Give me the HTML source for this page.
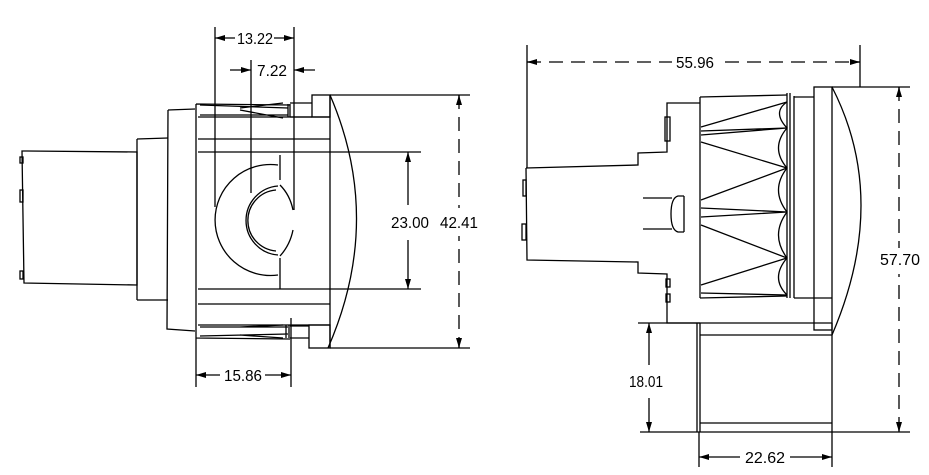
<!DOCTYPE html>
<html><head><style>
html,body{margin:0;padding:0;background:#fff;}
svg{display:block;}
text{font-family:"Liberation Sans",sans-serif;font-size:16px;fill:#000;}
</style></head><body>
<svg width="929" height="475" viewBox="0 0 929 475" xmlns="http://www.w3.org/2000/svg">
<defs>
<marker id="a" viewBox="0 0 10 6" refX="10" refY="3" markerWidth="10" markerHeight="6" orient="auto-start-reverse" markerUnits="userSpaceOnUse"><path d="M0,0L10,3L0,6z" fill="#000"/></marker>
</defs>
<g fill="none" stroke="#000" stroke-width="1.3">
<!-- LEFT VIEW -->
<path d="M27,151 L137,152 L137,285 L24,283 L22,151 Z"/>
<rect x="20" y="157" width="3" height="6"/><rect x="20" y="190" width="3" height="12"/><rect x="20" y="271" width="3" height="8"/>
<path d="M137,139 L168,138 M137,300 L168,300 M137,139 L137,300"/>
<path d="M168,110 L195,109 M168,110 L167,329 L195,331"/>
<path d="M196,104 L196,338 M196,104 L290,105 M196,338 L290,339"/>
<path d="M198,117 L330,117 M198,139 L330,139 M198,152 L421,152 M198,289 L421,289 M198,304 L330,304 M198,325 L330,325"/>
<path d="M200,105 L288,108 M200,115 L288,115 M240,108 L283,103 M240,110 L283,118 M288,104 L288,117 M290,104 L290,117"/>
<path d="M200,336 L288,334 M200,327 L288,327 M240,327 L283,325 M240,335 L283,338 M286,325 L286,338 M289,325 L289,338"/>
<rect x="312" y="95" width="18" height="22"/><rect x="309" y="325" width="21" height="23"/>
<path d="M290,117 L312,117 M290,103 L312,103 M290,338 L309,338 M290,326 L309,326"/>
<path d="M330,95 Q384,220 328,348"/>
<path d="M330,95 L330,348"/>
<!-- semicircle -->
<path d="M278,165 A55.5,55.5 0 1,0 278,275"/>
<path d="M280,155 L280,180 M280,258 L280,289"/>
<path d="M278,186 A34.6,34.6 0 0,0 278,255 M276,190 A30.6,30.6 0 0,0 276,251 M280,185 Q290,195 293,210 M280,256 Q290,245 293,230"/>
<!-- dim lines -->
<path d="M215,27 L215,207 M251,60 L251,193 M294,27 L294,210"/>
<path d="M235,38 L215,38" marker-end="url(#a)"/>
<path d="M274,38 L294,38" marker-end="url(#a)"/>
<path d="M230,70 L251,70" marker-end="url(#a)"/>
<path d="M315,70 L294,70" marker-end="url(#a)"/>
<path d="M196,338 L196,387 M291,318 L291,387"/>
<path d="M220,375 L196,375" marker-end="url(#a)"/>
<path d="M265,375 L291,375" marker-end="url(#a)"/>
<path d="M408,205 L408,152" marker-end="url(#a)"/>
<path d="M408,240 L408,289" marker-end="url(#a)"/>
<path d="M330,95 L470,95 M330,348 L470,348"/>
<path d="M459,95 L459,348" stroke-dasharray="14,8"/>
<path d="M459,105 L459,95" marker-end="url(#a)"/>
<path d="M459,338 L459,348" marker-end="url(#a)"/>

<!-- RIGHT VIEW -->
<path d="M527,45 L527,168 M860,45 L860,87"/>
<path d="M527,62 L860,62" stroke-dasharray="14,8"/>
<path d="M537,62 L527,62" marker-end="url(#a)"/>
<path d="M850,62 L860,62" marker-end="url(#a)"/>
<path d="M526,168 L638,165 L638,153 L667,152 L667,103 L700,103"/>
<path d="M526,168 L527,260 L638,262 L638,273 L667,274 L667,323 L700,323"/>
<rect x="665" y="117" width="5" height="24"/>
<rect x="523" y="180" width="3" height="16"/><rect x="522" y="224" width="4" height="16"/>
<rect x="666" y="279" width="4" height="8"/><rect x="666" y="294" width="4" height="8"/>
<path d="M643,198 L672,198 M643,229 L672,229 M684,196 L684,232 M684,196 L678,196 Q671,198 671,214 Q671,230 678,232 L684,232"/>
<!-- fan ring -->
<path d="M700,97 L700,298 M700,97 L787,95 M700,298 L787,296"/>
<path d="M787,93 L787,298 M790,93 L790,298 M794,96 L794,298"/>
<path d="M701,127 L787,102 M701,131 L787,128 M701,135 L787,128 M701,142 L787,168 M701,200 L787,168 M701,208 L787,212 M701,217 L787,212 M701,225 L787,258 M701,285 L787,258 M701,293 L787,295"/>
<path d="M787,102 Q772,112 787,128 Q770,148 787,168 Q770,190 787,212 Q770,235 787,258 Q770,278 787,295"/>
<path d="M794,97 L814,97 M794,298 L814,298"/>
<rect x="814" y="87" width="18" height="243"/>
<path d="M814,298 L832,298"/>
<path d="M832,87 Q890,200 832,335"/>
<!-- base -->
<path d="M638,323 L832,323 M700,323 L700,432 M697,323 L697,432 M832,323 L832,432 M700,335 L832,335 M700,423 L832,423 M640,432 L910,432"/>
<path d="M832,87 L910,87"/>
<path d="M899,87 L899,432" stroke-dasharray="14,8"/>
<path d="M899,97 L899,87" marker-end="url(#a)"/>
<path d="M899,422 L899,432" marker-end="url(#a)"/>
<path d="M649,365 L649,323" marker-end="url(#a)"/>
<path d="M649,398 L649,432" marker-end="url(#a)"/>
<path d="M699,432 L699,467 M832,432 L832,467"/>
<path d="M740,457 L699,457" marker-end="url(#a)"/>
<path d="M790,457 L832,457" marker-end="url(#a)"/>
</g>
<g>
<rect x="236" y="30" width="38" height="16" fill="#fff"/>
<text x="255" y="44" text-anchor="middle" textLength="36" lengthAdjust="spacingAndGlyphs">13.22</text>
<text x="272" y="76" text-anchor="middle" textLength="30" lengthAdjust="spacingAndGlyphs">7.22</text>
<text x="243" y="381" text-anchor="middle" textLength="38" lengthAdjust="spacingAndGlyphs">15.86</text>
<rect x="388" y="208" width="40" height="28" fill="#fff"/>
<text x="410" y="228" text-anchor="middle" textLength="38" lengthAdjust="spacingAndGlyphs">23.00</text>
<rect x="440" y="208" width="38" height="28" fill="#fff"/>
<text x="459" y="228" text-anchor="middle" textLength="38" lengthAdjust="spacingAndGlyphs">42.41</text>
<rect x="672" y="52" width="46" height="18" fill="#fff"/>
<text x="695" y="68" text-anchor="middle" textLength="38" lengthAdjust="spacingAndGlyphs">55.96</text>
<rect x="878" y="248" width="44" height="26" fill="#fff"/>
<text x="900" y="265" text-anchor="middle" textLength="40" lengthAdjust="spacingAndGlyphs">57.70</text>
<text x="646" y="387" text-anchor="middle" textLength="34" lengthAdjust="spacingAndGlyphs">18.01</text>
<text x="765" y="463" text-anchor="middle" textLength="40" lengthAdjust="spacingAndGlyphs">22.62</text>
</g>
</svg>
</body></html>
